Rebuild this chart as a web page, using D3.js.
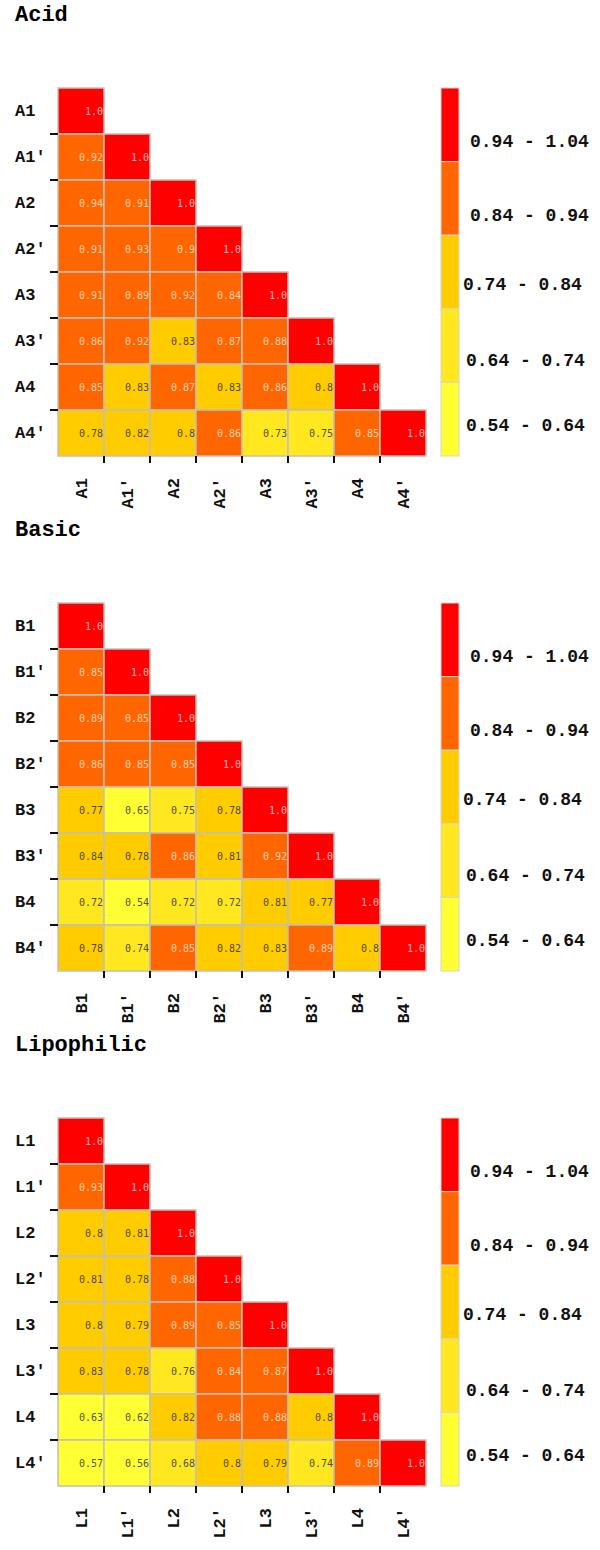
<!DOCTYPE html>
<html>
<head>
<meta charset="utf-8">
<script src="https://cdn.jsdelivr.net/npm/d3@7"></script>
<style>
  body { margin: 0; background: #fff; }
  .title, .lab { font-family: "Liberation Mono", "Courier New", monospace; font-weight: bold; }
  .val { font-family: "DejaVu Sans Mono", monospace; font-size: 10px; }
</style>
</head>
<body>
<div id="chart"></div>
<script>
// panel titles and category labels
const titles = ["Acid", "Basic", "Lipophilic"];
const acidLabels = ["A1", "A1'", "A2", "A2'", "A3", "A3'", "A4", "A4'"];
const basicLabels = ["B1", "B1'", "B2", "B2'", "B3", "B3'", "B4", "B4'"];
const lipoLabels = ["L1", "L1'", "L2", "L2'", "L3", "L3'", "L4", "L4'"];

// lower triangle values, row by row
const acidValues = [
  [1.0],
  [0.92, 1.0],
  [0.94, 0.91, 1.0],
  [0.91, 0.93, 0.9, 1.0],
  [0.91, 0.89, 0.92, 0.842, 1.0],
  [0.86, 0.92, 0.83, 0.87, 0.88, 1.0],
  [0.85, 0.83, 0.87, 0.83, 0.86, 0.8, 1.0],
  [0.78, 0.82, 0.8, 0.86, 0.73, 0.75, 0.85, 1.0]
];
const basicValues = [
  [1.0],
  [0.85, 1.0],
  [0.89, 0.85, 1.0],
  [0.86, 0.85, 0.85, 1.0],
  [0.77, 0.65, 0.75, 0.78, 1.0],
  [0.838, 0.78, 0.86, 0.81, 0.92, 1.0],
  [0.72, 0.54, 0.72, 0.72, 0.81, 0.77, 1.0],
  [0.78, 0.74, 0.85, 0.82, 0.83, 0.89, 0.8, 1.0]
];
const lipoValues = [
  [1.0],
  [0.93, 1.0],
  [0.8, 0.81, 1.0],
  [0.81, 0.78, 0.88, 1.0],
  [0.8, 0.79, 0.89, 0.85, 1.0],
  [0.83, 0.78, 0.76, 0.842, 0.87, 1.0],
  [0.63, 0.62, 0.82, 0.88, 0.88, 0.8, 1.0],
  [0.57, 0.56, 0.68, 0.8, 0.79, 0.74, 0.89, 1.0]
];

// legend bins (top to bottom)
const legendLabels = ["0.94 - 1.04", "0.84 - 0.94", "0.74 - 0.84", "0.64 - 0.74", "0.54 - 0.64"];
const binColors = ["#ffff33", "#ffe81f", "#ffcc00", "#ff6600", "#ff0000"];
const binThresholds = [0.665, 0.765, 0.84, 0.97];

const panels = [
  { title: titles[0], labels: acidLabels, values: acidValues },
  { title: titles[1], labels: basicLabels, values: basicValues },
  { title: titles[2], labels: lipoLabels, values: lipoValues }
];

const W = 600, H = 1550;
const panelStep = 515;
const gridLeft = 58, gridTop = 88, gridSize = 368;
const legX = 441, legW = 18;
// label offsets inside each legend band (x, y from legend top)
const legTextPos = [[470, 53], [470, 127], [463, 196], [466, 272], [466, 337]];

const color = d3.scaleThreshold().domain(binThresholds).range(binColors);
const fmt = v => v === 1 ? "1.0" : String(Math.round(v * 100) / 100);

const svg = d3.select("#chart").append("svg")
  .attr("width", W)
  .attr("height", H);

panels.forEach((p, pi) => {
  const g = svg.append("g").attr("transform", `translate(0,${pi * panelStep})`);

  g.append("text")
    .attr("class", "title")
    .attr("x", 15)
    .attr("y", 21)
    .style("font-size", "22px")
    .text(p.title);

  const x = d3.scaleBand().domain(p.labels).range([gridLeft, gridLeft + gridSize]);
  const y = d3.scaleBand().domain(p.labels).range([gridTop, gridTop + gridSize]);
  const bw = x.bandwidth();

  const cells = [];
  p.values.forEach((row, i) => row.forEach((v, j) => {
    cells.push({ r: p.labels[i], c: p.labels[j], v: v });
  }));

  const cell = g.selectAll(".cell").data(cells).enter().append("g").attr("class", "cell");

  cell.append("rect")
    .attr("x", d => x(d.c))
    .attr("y", d => y(d.r))
    .attr("width", bw)
    .attr("height", bw)
    .attr("fill", d => color(d.v))
    .attr("stroke", "#c4bfb8")
    .attr("stroke-width", 1.5);

  cell.append("text")
    .attr("class", "val")
    .attr("x", d => x(d.c) + bw - 1)
    .attr("y", d => y(d.r) + bw / 2)
    .attr("dy", "0.35em")
    .attr("text-anchor", "end")
    .attr("fill", d => d.v >= 0.84 ? "#ffffff" : "#222")
    .attr("fill-opacity", d => d.v >= 0.84 ? 0.7 : 0.8)
    .text(d => fmt(d.v));

  // y axis: labels on the far left, ticks on band boundaries
  const yAxis = g.append("g")
    .attr("transform", `translate(${gridLeft},0)`)
    .call(d3.axisLeft(y).tickSize(8));
  yAxis.select(".domain").remove();
  yAxis.selectAll(".tick line")
    .attr("transform", `translate(0,${bw / 2})`)
    .attr("stroke", "#111")
    .attr("stroke-width", 2)
    .style("display", (d, i) => i === p.labels.length - 1 ? "none" : null);
  yAxis.selectAll(".tick text")
    .attr("class", "lab")
    .attr("x", 15 - gridLeft)
    .attr("text-anchor", "start")
    .attr("fill", "#111")
    .style("font-size", "17px");

  // x axis: rotated labels under the grid
  const xAxis = g.append("g")
    .attr("transform", `translate(0,${gridTop + gridSize})`)
    .call(d3.axisBottom(x).tickSize(7));
  xAxis.select(".domain").remove();
  xAxis.selectAll(".tick line")
    .attr("transform", `translate(${bw / 2},0)`)
    .attr("stroke", "#111")
    .attr("stroke-width", 2)
    .style("display", (d, i) => i === p.labels.length - 1 ? "none" : null);
  xAxis.selectAll(".tick text")
    .attr("class", "lab")
    .attr("transform", "rotate(-90)")
    .attr("x", -22)
    .attr("y", 0)
    .attr("dy", "0.35em")
    .attr("text-anchor", "end")
    .attr("fill", "#111")
    .style("font-size", "17px");

  // legend
  const ly = d3.scaleBand().domain(legendLabels).range([gridTop, gridTop + gridSize]);
  const leg = g.append("g");
  leg.selectAll("rect").data(legendLabels).enter().append("rect")
    .attr("x", legX)
    .attr("y", d => ly(d))
    .attr("width", legW)
    .attr("height", ly.bandwidth())
    .attr("fill", (d, i) => binColors[binColors.length - 1 - i])
    .attr("stroke", "#d8d4cc")
    .attr("stroke-width", 1);
  leg.selectAll("text").data(legendLabels).enter().append("text")
    .attr("class", "lab")
    .attr("x", (d, i) => legTextPos[i][0])
    .attr("y", (d, i) => gridTop + legTextPos[i][1])
    .attr("dy", "0.35em")
    .attr("fill", "#111")
    .style("font-size", "18px")
    .text(d => d);
});
</script>
</body>
</html>
